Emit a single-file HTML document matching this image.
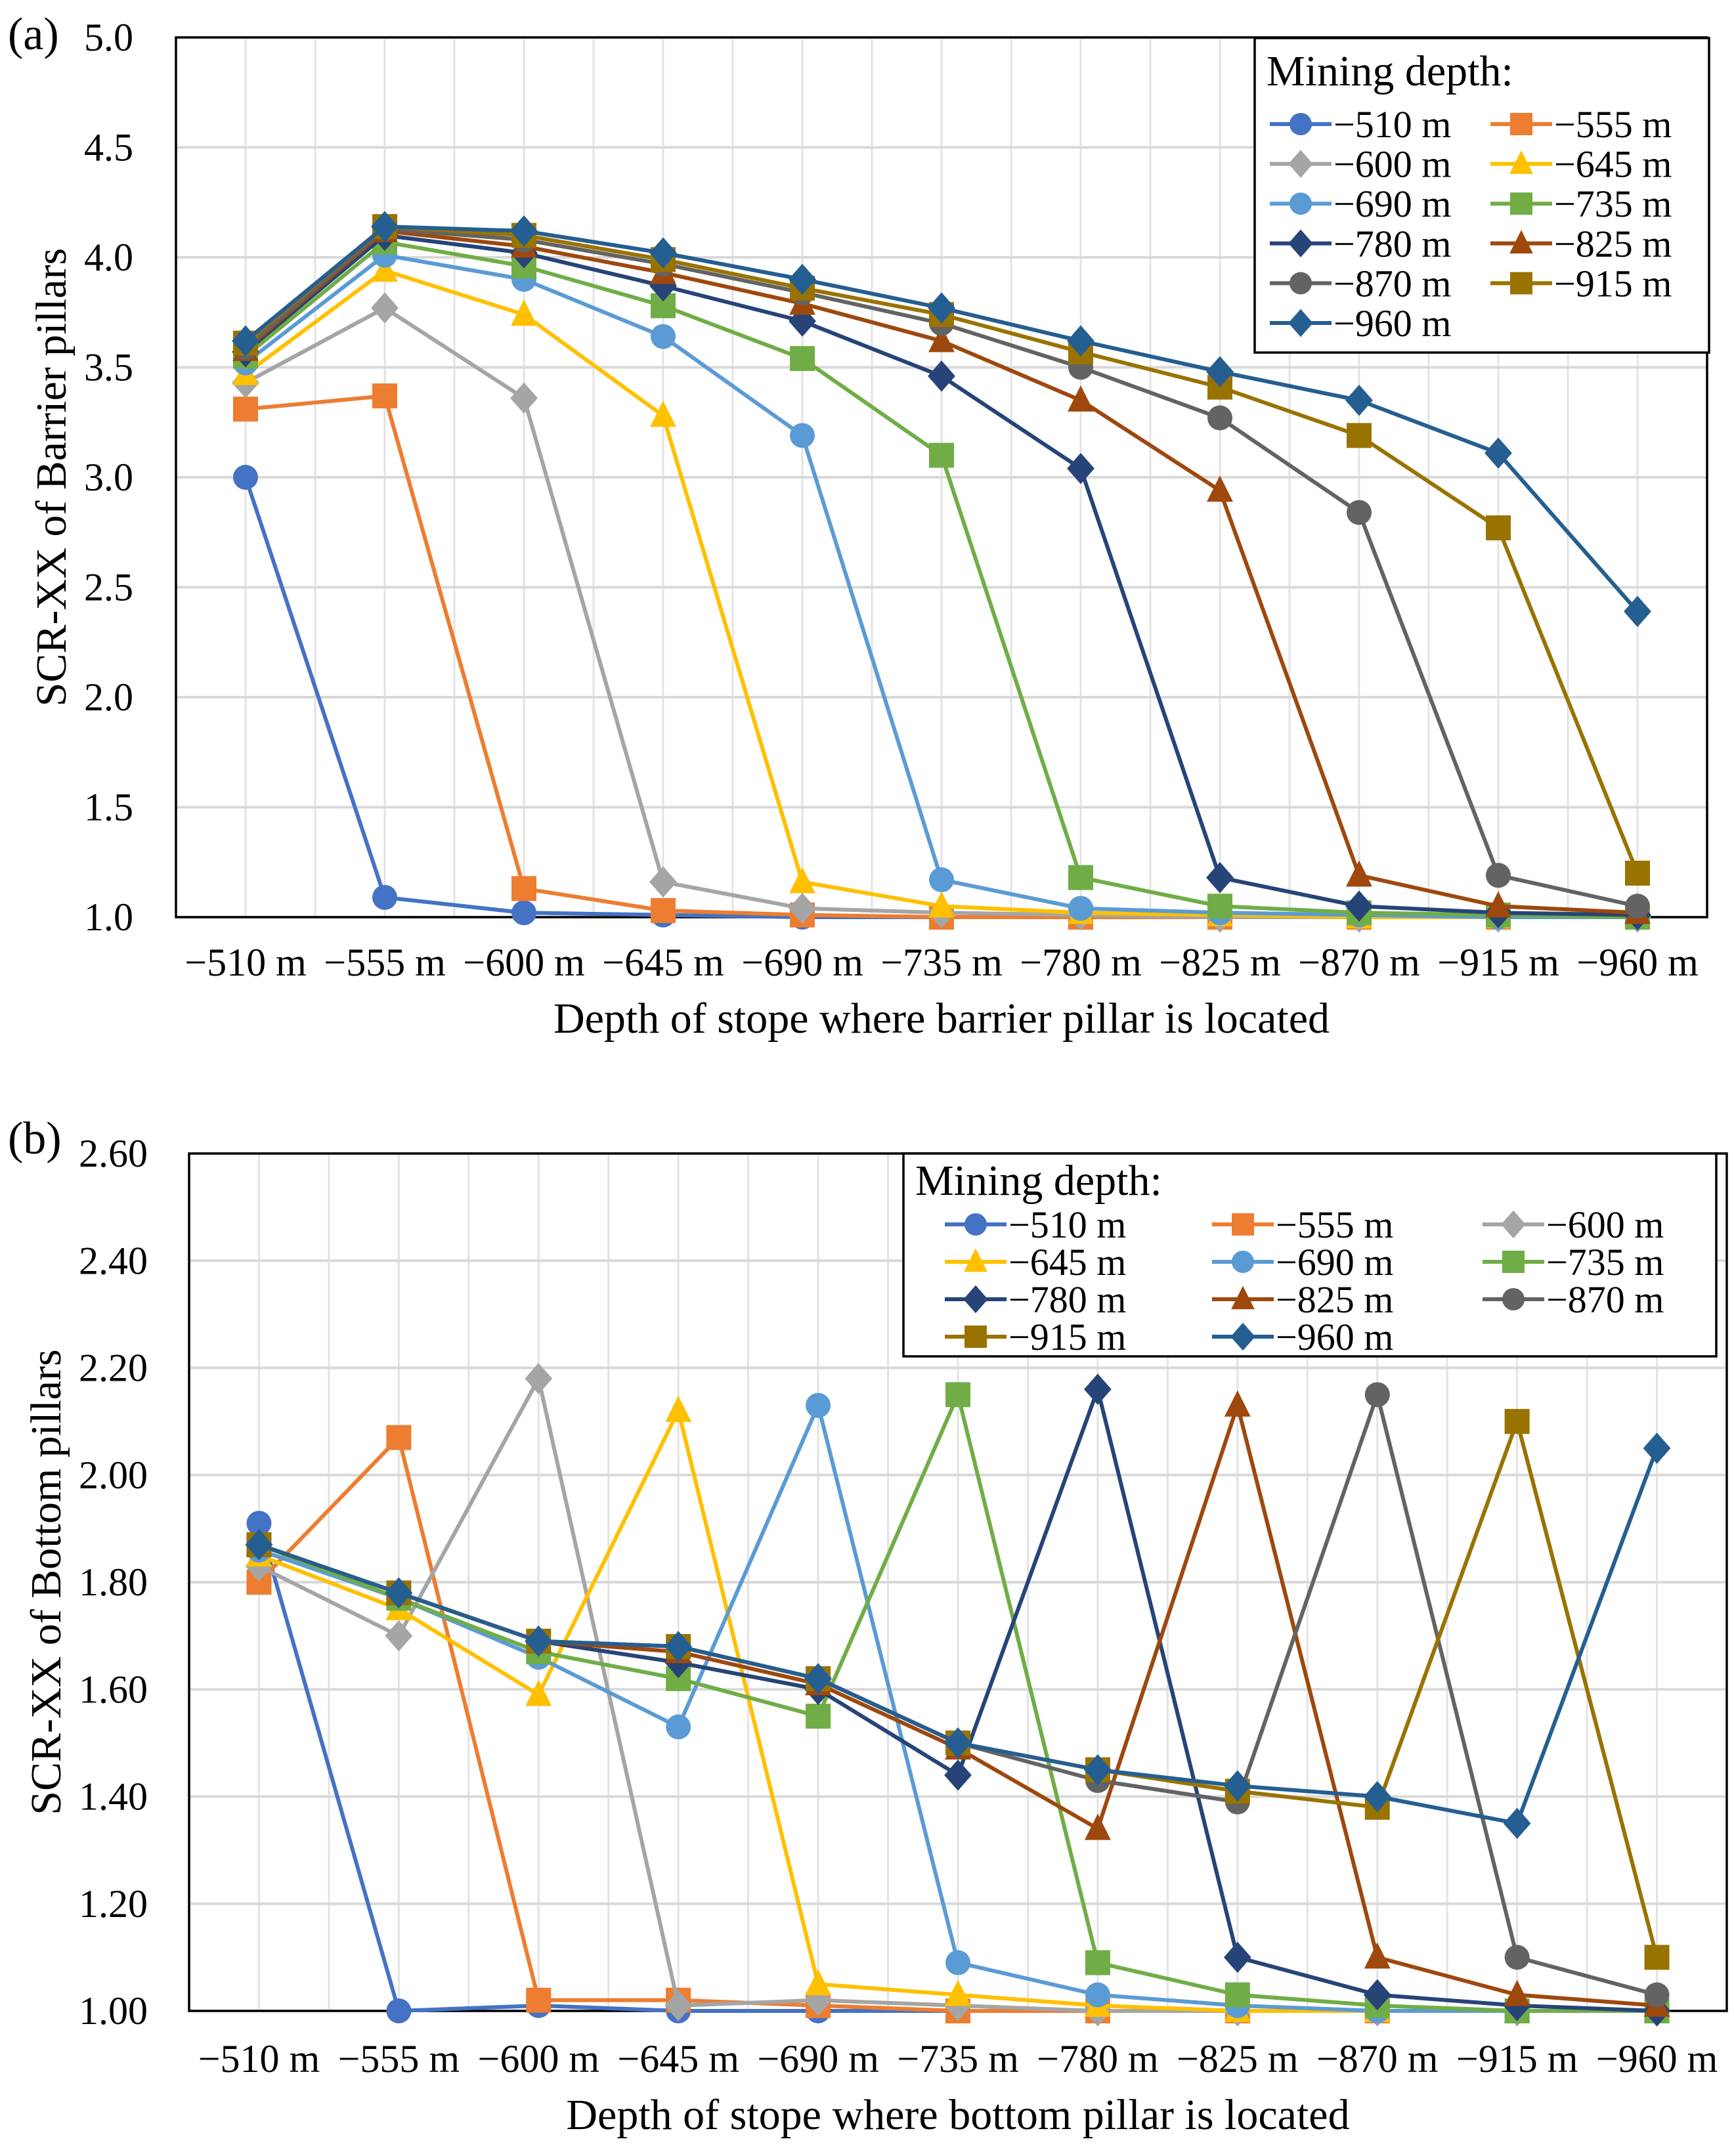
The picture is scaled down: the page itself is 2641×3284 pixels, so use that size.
<!DOCTYPE html>
<html><head><meta charset="utf-8"><style>
html,body{margin:0;padding:0;background:#fff}
svg{display:block;font-family:"Liberation Serif",serif}
</style></head><body>
<svg id="s" width="2641" height="3284" viewBox="0 0 2641 3284" xmlns="http://www.w3.org/2000/svg"></svg>
<script>
const categories=["−510 m","−555 m","−600 m","−645 m","−690 m","−735 m","−780 m","−825 m","−870 m","−915 m","−960 m"];
const seriesNames=["−510 m","−555 m","−600 m","−645 m","−690 m","−735 m","−780 m","−825 m","−870 m","−915 m","−960 m"];
const seriesColors=["#4472C4","#ED7D31","#A5A5A5","#FFC000","#5B9BD5","#70AD47","#264478","#9E480E","#636363","#997300","#255E91"];
const seriesShapes=["circle","square","diamond","triangle","circle","square","diamond","triangle","circle","square","diamond"];
const ticksA=["1.0","1.5","2.0","2.5","3.0","3.5","4.0","4.5","5.0"];
const ticksB=["1.00","1.20","1.40","1.60","1.80","2.00","2.20","2.40","2.60"];
const dataA=[
[3.00,1.09,1.02,1.01,1.00,1.00,1.00,1.00,1.00,1.00,1.00],
[3.31,3.37,1.13,1.03,1.01,1.00,1.00,1.00,1.00,1.00,1.00],
[3.43,3.77,3.36,1.16,1.04,1.02,1.01,1.00,1.00,1.00,1.00],
[3.47,3.94,3.74,3.28,1.16,1.05,1.02,1.01,1.00,1.00,1.00],
[3.52,4.01,3.90,3.64,3.19,1.17,1.04,1.02,1.01,1.00,1.00],
[3.55,4.07,3.96,3.78,3.54,3.10,1.18,1.05,1.02,1.01,1.00],
[3.57,4.10,4.02,3.87,3.71,3.46,3.04,1.18,1.05,1.02,1.01],
[3.58,4.12,4.05,3.93,3.79,3.62,3.35,2.94,1.19,1.05,1.02],
[3.59,4.13,4.08,3.97,3.84,3.70,3.50,3.27,2.84,1.19,1.05],
[3.61,4.14,4.10,3.99,3.86,3.74,3.57,3.41,3.19,2.77,1.20],
[3.62,4.14,4.12,4.02,3.90,3.77,3.62,3.48,3.35,3.11,2.39]];
const dataB=[
[1.91,1.00,1.01,1.00,1.00,1.00,1.00,1.00,1.00,1.00,1.00],
[1.80,2.07,1.02,1.02,1.01,1.00,1.00,1.00,1.00,1.00,1.00],
[1.83,1.70,2.18,1.01,1.02,1.01,1.00,1.00,1.00,1.00,1.00],
[1.85,1.75,1.59,2.12,1.05,1.03,1.01,1.00,1.00,1.00,1.00],
[1.86,1.77,1.66,1.53,2.13,1.09,1.03,1.01,1.00,1.00,1.00],
[1.87,1.77,1.67,1.62,1.55,2.15,1.09,1.03,1.01,1.00,1.00],
[1.87,1.78,1.69,1.65,1.60,1.44,2.16,1.10,1.03,1.01,1.00],
[1.87,1.78,1.69,1.67,1.61,1.49,1.34,2.13,1.10,1.03,1.01],
[1.87,1.78,1.69,1.68,1.62,1.50,1.43,1.39,2.15,1.10,1.03],
[1.87,1.78,1.69,1.68,1.62,1.50,1.45,1.41,1.38,2.10,1.10],
[1.87,1.78,1.69,1.68,1.62,1.50,1.45,1.42,1.40,1.35,2.05]];

const NS="http://www.w3.org/2000/svg";
const svg=document.getElementById('s');
function mk(tag,attrs,parent,text){const e=document.createElementNS(NS,tag);for(const k in attrs)e.setAttribute(k,attrs[k]);if(text!==undefined)e.textContent=text;(parent||svg).appendChild(e);return e;}
function marker(shape,x,y,r,color,g){
  let e;
  if(shape==="circle")e=mk('circle',{cx:x,cy:y,r:r,fill:color},g);
  else if(shape==="square")e=mk('rect',{x:x-r,y:y-r,width:2*r,height:2*r,fill:color},g);
  else if(shape==="diamond")e=mk('polygon',{points:`${x},${y-r*1.25} ${x+r*1.1},${y} ${x},${y+r*1.25} ${x-r*1.1},${y}`,fill:color},g);
  else e=mk('polygon',{points:`${x},${y-r*1.2} ${x+r*1.05},${y+r*0.9} ${x-r*1.05},${y+r*0.9}`,fill:color},g);
  return e;
}
function chart(cfg){
  const g=mk('g',{});
  
  
  const {L,R,T,B,ymin,ymax,ticks,data}=cfg;
  const band=(R-L)/categories.length;
  const xs=i=>L+band*(i+0.5);
  const ys=v=>B-(v-ymin)/(ymax-ymin)*(B-T);
  for(let k=1;k<categories.length*2;k++){
    const ln=mk('line',{x1:L+k*band/2,x2:L+k*band/2,y1:T,y2:B,stroke:"#e3e3e3","stroke-width":3},g);
    
  }
  ticks.forEach((t,i)=>{
    const v=ymin+(ymax-ymin)*i/(ticks.length-1);
    const ln=mk('line',{x1:L,x2:R,y1:ys(v),y2:ys(v),stroke:"#d9d9d9","stroke-width":4},g);
    
    const tx=mk('text',{x:cfg.tickRight,y:ys(v)+20,"text-anchor":"end","font-size":60},g,t);
    
  });
  categories.forEach((c,i)=>{
    const tx=mk('text',{x:xs(i),y:cfg.xtickY,"text-anchor":"middle","font-size":60},g,c);
    
  });
  const bd=mk('rect',{x:L,y:T,width:R-L,height:B-T,fill:"none",stroke:"#000","stroke-width":3.5},g);
  
  data.forEach((row,si)=>{
    const sg=mk('g',{},g);
    
    
    const pl=mk('polyline',{points:row.map((v,i)=>xs(i)+","+ys(v)).join(" "),fill:"none",stroke:seriesColors[si],"stroke-width":6,"stroke-linejoin":"round"},sg);
    
    row.forEach((v,i)=>{const m=marker(seriesShapes[si],xs(i),ys(v),19,seriesColors[si],sg);
      });
  });
  const yt=mk('text',{x:0,y:0,"text-anchor":"middle","font-size":66,transform:`translate(${cfg.ytX},${cfg.ytY}) rotate(-90)`},g,cfg.ytitle);
  
  const xt=mk('text',{x:(L+R)/2,y:cfg.xtY,"text-anchor":"middle","font-size":66},g,cfg.xtitle);
  
  const pt=mk('text',{x:12,y:cfg.panelY,"font-size":70},g,cfg.panel);
  
  const lg=mk('g',{},g);
  
  const lb=cfg.leg;
  mk('rect',{x:lb.x,y:lb.y,width:lb.w,height:lb.h,fill:"#fff",stroke:"#000","stroke-width":3.5},lg);
  mk('text',{x:lb.x+18,y:lb.titleY,"font-size":66},lg,"Mining depth:");
  seriesNames.forEach((n,si)=>{
    const col=si%lb.cols,row=Math.floor(si/lb.cols);
    const x0=lb.colX[col],y0=lb.rowY0+row*lb.rowH;
    const e=mk('g',{},lg);
    
    mk('line',{x1:x0,x2:x0+94,y1:y0,y2:y0,stroke:seriesColors[si],"stroke-width":6},e);
    marker(seriesShapes[si],x0+47,y0,17,seriesColors[si],e);
    mk('text',{x:x0+97,y:y0+20,"font-size":58},e,n);
  });
}
chart({name:'chart-a-barrier-pillars',L:268,R:2600,T:57,B:1397,ymin:1,ymax:5,ticks:ticksA,data:dataA,tickRight:203,xtickY:1486,
  ytitle:"SCR-XX of  Barrier pillars",ytX:100,ytY:727,xtitle:"Depth of stope where barrier pillar is located",xtY:1573,panel:"(a)",panelY:75,
  leg:{x:1911,y:58,w:692,h:479,titleY:130,cols:2,colX:[1934,2270],rowY0:189,rowH:60.6}});
chart({name:'chart-b-bottom-pillars',L:288,R:2630,T:1757,B:3063,ymin:1,ymax:2.6,ticks:ticksB,data:dataB,tickRight:225,xtickY:3156,
  ytitle:"SCR-XX of  Bottom pillars",ytX:92,ytY:2410,xtitle:"Depth of stope where bottom pillar is located",xtY:3243,panel:"(b)",panelY:1757,
  leg:{x:1376,y:1757,w:1238,h:309,titleY:1820,cols:3,colX:[1439,1846,2258],rowY0:1865,rowH:57}});
</script>
</body></html>
